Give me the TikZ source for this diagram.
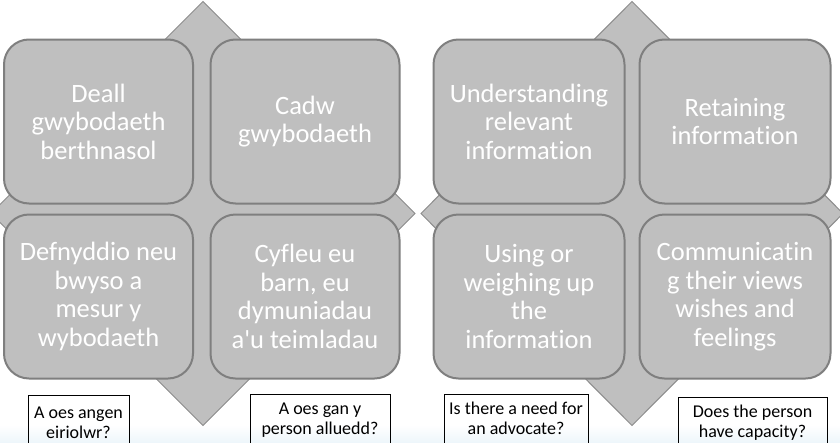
\documentclass[tikz,border=0pt]{standalone}
\usepackage{fontspec}
\setmainfont{Carlito}[Ligatures={TeXOff,NoCommon}]
\definecolor{sqfill}{RGB}{191,191,191}
\definecolor{sqline}{RGB}{127,127,127}
\definecolor{dmline}{RGB}{140,140,140}
\definecolor{bgblue}{RGB}{238,246,251}
\tikzset{
  sq/.style={draw=sqline, line width=2pt, fill=sqfill, rounded corners=25pt,
    inner sep=0pt, text=white, align=center,
    font=\fontsize{26.5}{28.5}\selectfont},
  dm/.style={draw=dmline, line width=1pt, fill=sqfill},
  qbox/.style={draw=black, line width=0.8pt},
  qtext/.style={align=center, anchor=base, inner sep=0pt, text=black,
    font=\fontsize{18}{20}\selectfont}
}
\begin{document}
\begin{tikzpicture}[x=1pt,y=-1pt]
\useasboundingbox (0,0) rectangle (840,442);
\fill[white] (0,0) rectangle (840,442);
\shade[top color=white, bottom color=bgblue] (0,425) rectangle (840,442);
% diamonds
\draw[dm] (203,1.5) -- (415,213.5) -- (203,425.5) -- (-9,213.5) -- cycle;
\draw[dm] (632,1.5) -- (843,213.5) -- (632,425.5) -- (421,213.5) -- cycle;
% left group
\node[sq, minimum width=189pt, minimum height=164pt] (l1) at (98.5,121.5) {Deall\\gwybodaeth\\berthnasol};
\node[sq, minimum width=189pt, minimum height=164pt] (l2) at (305,121.5) {Cadw\\gwybodaeth};
\node[sq, minimum width=189pt, minimum height=164pt] (l3) at (98.5,296.5) {Defnyddio neu\\bwyso a\\mesur y\\wybodaeth};
\node[sq, minimum width=189pt, minimum height=164pt] (l4) at (305,296.5) {Cyfleu eu\\barn, eu\\dymuniadau\\a'u teimladau};
% right group
\node[sq, minimum width=191pt, minimum height=164pt] (r1) at (529,121.5) {Understanding\\relevant\\information};
\node[sq, minimum width=191pt, minimum height=164pt] (r2) at (735,121.5) {Retaining\\information};
\node[sq, minimum width=191pt, minimum height=164pt] (r3) at (529,296.5) {Using or\\weighing up\\the\\information};
\node[sq, minimum width=191pt, minimum height=164pt] (r4) at (735,296.5) {Communicatin\\g their views\\wishes and\\feelings};
% question boxes
\draw[qbox] (28,460) |- (129,395) -- (129,460);
\draw[qbox] (250,460) |- (390,394) -- (390,460);
\draw[qbox] (444,460) |- (588,394) -- (588,460);
\draw[qbox] (678,460) |- (827,397) -- (827,460);
\node[qtext] (q1) at (78.5,438) {A oes angen\\eiriolwr?};
\node[qtext] (q2) at (320,434) {A oes gan y\\person alluedd?};
\node[qtext] (q3) at (516,434) {Is there a need for\\an advocate?};
\node[qtext] (q4) at (752.5,437) {Does the person\\have capacity?};
\end{tikzpicture}
\end{document}
